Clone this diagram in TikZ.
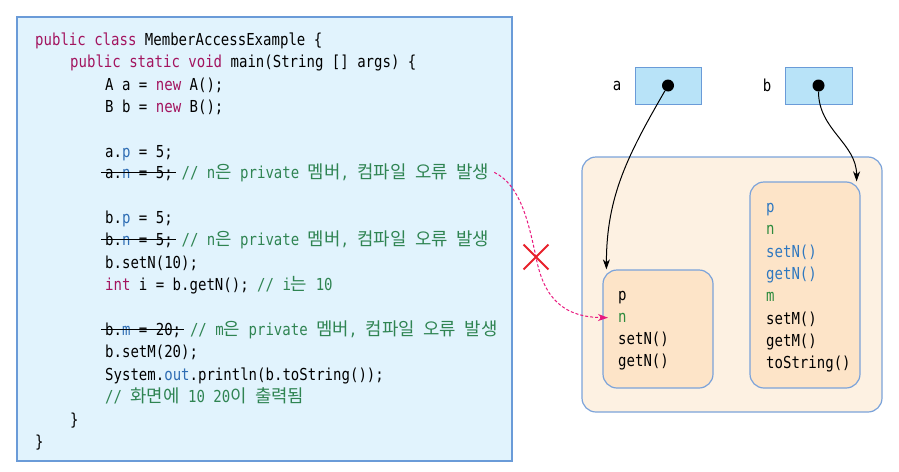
\documentclass[tikz,border=0pt]{standalone}
\usepackage{fontspec}
\setmonofont[FakeStretch=0.85]{DejaVu Sans Mono}
\newfontfamily\korfont[Scale=1.08]{Noto Sans CJK KR}
\usepackage{tikz}
\usetikzlibrary{positioning}
\usetikzlibrary{arrows.meta}
\usetikzlibrary{shapes.misc}
\usetikzlibrary{calc}

\definecolor{kwcol}{HTML}{A3145F}
\definecolor{fdcol}{HTML}{2E6DB4}
\definecolor{cmcol}{HTML}{2F8452}
\definecolor{codefill}{HTML}{E1F3FD}
\definecolor{codeline}{HTML}{6A9BD8}
\definecolor{varfill}{HTML}{B8E3F8}
\definecolor{objfill}{HTML}{FDF1E2}
\definecolor{innerfill}{HTML}{FDE4C8}
\definecolor{objline}{HTML}{7BA3DA}
\definecolor{errpink}{HTML}{E8187E}
\definecolor{errred}{HTML}{E8212B}
\definecolor{pblue}{HTML}{2F78C0}
\definecolor{pgreen}{HTML}{2E8B3E}

\newcommand{\kw}[1]{\textcolor{kwcol}{#1}}
\newcommand{\fd}[1]{\textcolor{fdcol}{#1}}
\newcommand{\cm}[1]{\textcolor{cmcol}{#1}}
\newcommand{\kor}[1]{{\korfont #1}}
\newcommand{\codefont}{\ttfamily\fontsize{16.5}{18}\selectfont}

\tikzset{
  code/.style={anchor=base west, inner sep=0pt, font=\codefont},
  strike/.style={line width=1pt},
  varbox/.style={draw=codeline, fill=varfill, line width=1pt, minimum width=66pt, minimum height=37pt},
  refdot/.style={circle, fill=black, inner sep=0pt, minimum size=12pt},
  objbox/.style={draw=objline, fill=objfill, line width=1.2pt, rounded corners=14pt},
  innerbox/.style={draw=objline, fill=innerfill, line width=1.2pt, rounded corners=14pt},
  ptr/.style={line width=1pt, -{Stealth[length=10pt,width=7pt,inset=3pt]}},
  errline/.style={errpink, line width=1pt, dash pattern=on 3pt off 2pt, -{Stealth[length=10pt,width=7pt,inset=3pt]}}
}

\begin{document}
\begin{tikzpicture}[x=1pt,y=-1pt]
\useasboundingbox (0,0) rectangle (899,471);

% source code
\node[draw=codeline, fill=codefill, line width=1.2pt, minimum width=495pt, minimum height=444pt] (codebox) at (264.5,239) {};

\node[code] (l1) at (35,45) {\kw{public class} MemberAccessExample \{};
\node[code] (l2) at (70,67) {\kw{public static void} main(String [] args) \{};
\node[code] (l3) at (105,90) {A a = \kw{new} A();};
\node[code] (l4) at (105,112) {B b = \kw{new} B();};

\node[code] (l5) at (105,157) {a.\fd{p} = 5;};
\node[code] (s6) at (105,178) {a.\fd{n} = 5;};
\node[code] (c6) at ([xshift=8.44pt]s6.base east) {\cm{// n\kor{은} private \kor{멤버}, \kor{컴파일} \kor{오류} \kor{발생}}};

\node[code] (l7) at (105,223) {b.\fd{p} = 5;};
\node[code] (s8) at (105,245) {b.\fd{n} = 5;};
\node[code] (c8) at ([xshift=8.44pt]s8.base east) {\cm{// n\kor{은} private \kor{멤버}, \kor{컴파일} \kor{오류} \kor{발생}}};
\node[code] (l9) at (105,268) {b.setN(10);};
\node[code] (l10) at (105,290) {\kw{int} i = b.getN(); \cm{// i\kor{는} 10}};

\node[code] (s11) at (105,335) {b.\fd{m} = 20;};
\node[code] (c11) at ([xshift=8.44pt]s11.base east) {\cm{// m\kor{은} private \kor{멤버}, \kor{컴파일} \kor{오류} \kor{발생}}};
\node[code] (l12) at (105,357) {b.setM(20);};
\node[code] (l13) at (105,380) {System.\fd{out}.println(b.toString());};
\node[code] (l14) at (105,402) {\cm{// \kor{화면에} 10 20\kor{이} \kor{출력됨}}};
\node[code] (l15) at (70,425) {\}};
\node[code] (l16) at (35,447) {\}};

\draw[strike] ([xshift=-4pt,yshift=6pt]s6.base west) -- ([xshift=3pt,yshift=6pt]s6.base east);
\draw[strike] ([xshift=-4pt,yshift=6pt]s8.base west) -- ([xshift=3pt,yshift=6pt]s8.base east);
\draw[strike] ([xshift=-4pt,yshift=6pt]s11.base west) -- ([xshift=3pt,yshift=6pt]s11.base east);

% reference variables
\node[varbox] (avar) at (668,85.5) {};
\node[refdot] (adot) at (avar.center) {};
\node[inner sep=0pt, font=\codefont, left=13pt of avar] (alab) {a};
\node[varbox, minimum width=67pt] (bvar) at (818.5,85.5) {};
\node[refdot] (bdot) at (bvar.center) {};
\node[inner sep=0pt, font=\codefont, left=13pt of bvar] (blab) {b};

% objects
\node[objbox, minimum width=300pt, minimum height=255pt] (heap) at (732,284.5) {};
\node[innerbox, minimum width=110pt, minimum height=118pt] (objA) at (658,329) {};
\node[innerbox, minimum width=110pt, minimum height=206pt] (objB) at (805,285) {};

\node[code] (fAp) at (618,300) {p};
\node[code, text=pgreen] (fAn) at ([yshift=-22.3pt]fAp.base west) {n};
\node[code] (fAset) at ([yshift=-22.3pt]fAn.base west) {setN()};
\node[code] (fAget) at ([yshift=-22.3pt]fAset.base west) {getN()};

\node[code, text=pblue] (fBp) at (766,212.5) {p};
\node[code, text=pgreen] (fBn) at ([yshift=-22.3pt]fBp.base west) {n};
\node[code, text=pblue] (fBsetn) at ([yshift=-22.3pt]fBn.base west) {setN()};
\node[code, text=pblue] (fBgetn) at ([yshift=-22.3pt]fBsetn.base west) {getN()};
\node[code, text=pgreen] (fBm) at ([yshift=-22.3pt]fBgetn.base west) {m};
\node[code] (fBsetm) at ([yshift=-22.3pt]fBm.base west) {setM()};
\node[code] (fBgetm) at ([yshift=-22.3pt]fBsetm.base west) {getM()};
\node[code] (fBstr) at ([yshift=-22.3pt]fBgetm.base west) {toString()};

\draw[ptr] (adot) to[out=-120,in=90] ([xshift=4pt]objA.north west);
\draw[ptr] (bdot) to[out=-90,in=90] ([xshift=-4pt]objB.north east);

% access error
\coordinate (xpos) at (536,257);
\draw[errline] ([xshift=5pt]c6.east) .. controls (520,185) and (528,220) .. (xpos)
  .. controls (544,300) and (565,317) .. ([xshift=-10pt]fAn.west);
\node[cross out, draw=errred, line width=1.8pt, inner sep=0pt, minimum size=23pt] (xmark) at (xpos) {};
\end{tikzpicture}
\end{document}
